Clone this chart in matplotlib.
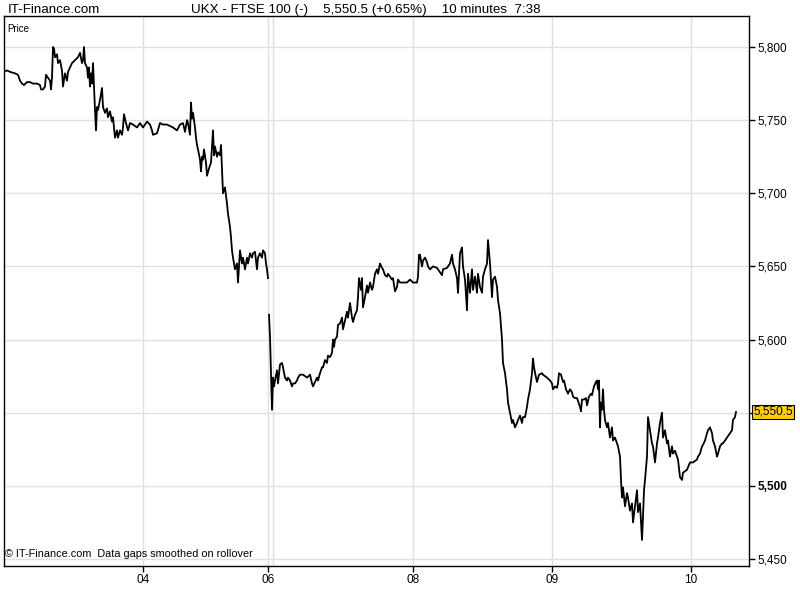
import numpy as np
import matplotlib
matplotlib.use("Agg")
import matplotlib.pyplot as plt
from matplotlib.ticker import FixedLocator

# FTSE 100, 10 minute bars (x = bar count, gaps smoothed on rollover)
t = [4, 7, 10, 15, 18, 20, 22, 24, 27, 30, 33, 37, 40, 41, 43, 45, 46, 48, 50, 51,
     52, 53, 54, 55, 57, 58, 60, 62, 63, 65, 67, 68, 70, 72, 75, 78, 80, 82, 83, 84,
     85, 87, 88, 89, 90, 91, 92, 93, 94, 95, 96, 97, 98, 100, 102, 103, 105, 107, 108, 110,
     112, 113, 115, 117, 118, 120, 122, 123, 124, 126, 128, 130,
     133, 137, 140, 143, 147, 150, 152, 153, 157, 160, 163, 167, 170, 173, 177, 180, 183, 185,
     187, 188, 190, 191, 192, 193, 195, 196, 197, 198, 200, 201, 202, 203, 204, 206, 207, 209,
     211, 213, 214, 215, 217, 218, 220, 221, 222, 223, 225, 227, 228, 230, 231, 232, 233, 235,
     237, 238, 240, 242, 243, 245, 247, 248, 250, 252, 253, 255, 257, 258, 260, 262, 263, 265,
     266, 267, 268, 268.5,
     269, 270, 271, 272, 273, 274, 275, 277, 278, 280, 282, 283, 285, 287, 288, 290, 292, 293,
     295, 297, 298, 300, 303, 307, 310, 312, 313, 315, 317, 318, 320, 322, 323, 325, 327, 328,
     330, 332, 333, 334, 335, 337, 338, 340, 342, 343, 345, 347, 348, 350, 352, 353, 355, 357,
     358, 359, 361, 362, 363, 365, 367, 368, 370, 372, 373, 375, 377, 378, 380, 382, 383, 385,
     387, 388, 390, 392, 393, 395, 397, 398, 400, 403, 407, 410, 413, 417, 418, 419, 420, 422,
     423, 425, 427, 428, 430, 433, 437, 440, 442, 443, 447, 450, 452, 453, 455, 457, 458, 460,
     462, 463, 465, 467, 468, 470, 472, 473, 475, 477, 478, 480, 482, 483, 485, 487, 488, 490,
     492, 493, 495, 497, 498, 500, 502, 503, 505, 507, 508, 510, 512, 513, 515, 517, 518, 520,
     522, 523, 525, 527, 528, 530, 532, 533, 534, 536, 537, 539, 542, 543, 547, 550, 552, 553,
     555, 557, 558, 559, 561, 563, 564, 566, 568, 570, 572, 573, 575, 577, 578, 580, 581, 582,
     584, 586, 587, 589, 591, 592, 594, 596, 597, 598, 599, 600, 601, 602, 603, 604, 605, 607,
     608, 610, 612, 613, 615, 617, 618, 620, 621, 622, 623, 625, 627, 628, 630, 632, 633, 635,
     637, 638, 640, 642, 643, 644, 645, 647, 648, 650, 652, 653, 655, 657, 658, 660, 662, 663,
     665, 667, 668, 670, 672, 673, 675, 677, 678, 680, 682, 683, 687, 690, 693, 697, 698, 700,
     702, 703, 705, 707, 708, 710, 712, 713, 715, 717, 718, 720, 722, 723, 725, 727, 730, 732,
     733, 735, 736]

price = [5783, 5784, 5783, 5782, 5781, 5777, 5775, 5774, 5776, 5776, 5775, 5775, 5774, 5771, 5771, 5773, 5781, 5779, 5777, 5771,
         5779, 5800, 5799, 5793, 5795, 5789, 5791, 5784, 5773, 5782, 5777, 5783, 5786, 5789, 5791, 5793, 5796, 5789, 5791, 5800,
         5789, 5786, 5779, 5786, 5773, 5782, 5775, 5789, 5773, 5757, 5743, 5759, 5757, 5764, 5772, 5759, 5755, 5758, 5752, 5756,
         5749, 5752, 5738, 5743, 5738, 5743, 5740, 5745, 5754, 5748, 5743, 5748,
         5747, 5745, 5748, 5745, 5749, 5747, 5743, 5740, 5741, 5748, 5747, 5747, 5746, 5745, 5743, 5747, 5748, 5742,
         5750, 5748, 5740, 5762, 5751, 5755, 5745, 5738, 5733, 5730, 5723, 5715, 5725, 5723, 5730, 5721, 5712, 5717,
         5721, 5743, 5726, 5732, 5725, 5728, 5726, 5733, 5716, 5700, 5704, 5693, 5686, 5677, 5670, 5661, 5656, 5648,
         5652, 5639, 5661, 5652, 5656, 5648, 5656, 5652, 5659, 5656, 5659, 5660, 5648, 5656, 5659, 5656, 5661, 5659,
         5652, 5648, 5642, np.nan,
         5617, 5602, 5577, 5552, 5574, 5568, 5572, 5579, 5570, 5583, 5584, 5581, 5574, 5572, 5574, 5572, 5568, 5570,
         5570, 5572, 5574, 5576, 5576, 5574, 5576, 5570, 5568, 5571, 5574, 5572, 5577, 5581, 5581, 5586, 5584, 5589,
         5588, 5591, 5600, 5595, 5600, 5602, 5610, 5611, 5615, 5607, 5613, 5619, 5615, 5625, 5615, 5612, 5617, 5620,
         5629, 5642, 5634, 5642, 5622, 5629, 5637, 5632, 5639, 5634, 5636, 5645, 5648, 5645, 5652, 5649, 5648, 5644,
         5643, 5645, 5643, 5641, 5642, 5633, 5636, 5641, 5639, 5639, 5639, 5641, 5639, 5639, 5643, 5658, 5658, 5650,
         5654, 5656, 5653, 5650, 5648, 5650, 5649, 5646, 5644, 5648, 5649, 5652, 5658, 5652, 5648, 5642, 5632, 5659,
         5663, 5650, 5641, 5620, 5645, 5632, 5648, 5634, 5643, 5632, 5645, 5636, 5632, 5643, 5648, 5652, 5668, 5652,
         5629, 5641, 5643, 5636, 5627, 5618, 5600, 5584, 5577, 5566, 5557, 5550, 5543, 5545, 5540, 5543, 5545, 5548,
         5543, 5547, 5547, 5554, 5559, 5566, 5577, 5587, 5581, 5574, 5571, 5576, 5577, 5576, 5574, 5572, 5570, 5566,
         5568, 5567, 5570, 5577, 5576, 5571, 5572, 5566, 5563, 5566, 5564, 5561, 5560, 5560, 5558, 5554, 5551, 5559,
         5559, 5560, 5555, 5561, 5563, 5562, 5568, 5571, 5572, 5566, 5572, 5540, 5557, 5552, 5566, 5552, 5545, 5540,
         5543, 5533, 5540, 5531, 5533, 5529, 5527, 5520, 5504, 5492, 5499, 5486, 5495, 5492, 5483, 5488, 5475, 5486,
         5497, 5482, 5488, 5463, 5479, 5497, 5504, 5520, 5547, 5538, 5529, 5527, 5516, 5529, 5533, 5543, 5550, 5533,
         5538, 5529, 5531, 5520, 5527, 5522, 5524, 5520, 5518, 5506, 5504, 5509, 5511, 5516, 5516, 5518, 5520, 5522,
         5527, 5528, 5531, 5536, 5538, 5540, 5536, 5531, 5527, 5520, 5522, 5527, 5529, 5529, 5531, 5533, 5536, 5538,
         5545, 5547, 5550.5]

day_ticks = [143, 268, 413, 552, 691]
day_labels = ["04", "06", "08", "09", "10"]
price_ticks = [5450, 5500, 5550, 5600, 5650, 5700, 5750, 5800]
price_labels = ["5,450", "5,500", "", "5,600", "5,650", "5,700", "5,750", "5,800"]
last_price = 5550.5

plt.rcParams["font.family"] = ["Liberation Sans", "DejaVu Sans"]

fig = plt.figure(figsize=(8, 6), dpi=100)
ax = fig.add_axes([4 / 800, 1 - 566 / 600, 745 / 800, 550 / 600])

ax.plot(t, price, color="black", lw=1.3, zorder=3)

ax.set_xlim(4, 749)
ax.set_ylim(5445.2, 5821.2)

ax.yaxis.tick_right()
ax.set_yticks(price_ticks)
ax.set_yticklabels(price_labels)
ax.set_xticks(day_ticks)
ax.set_xticklabels(day_labels)
ax.xaxis.set_minor_locator(FixedLocator([273]))
ax.tick_params(axis="both", which="major", labelsize=8.5, length=4, width=1,
               color="black", direction="out", pad=2)
ax.tick_params(axis="x", which="minor", length=0)
for lab in ax.get_yticklabels():
    if lab.get_text() == "5,500":
        lab.set_fontweight("bold")

ax.grid(True, which="both", color="#e0e0e0", lw=1, zorder=0)
for s in ax.spines.values():
    s.set_color("black")
    s.set_linewidth(1)

# header
fig.text(8 / 800, 1 - 10 / 600, "IT-Finance.com", fontsize=9.6,
         va="center", ha="left")
fig.text(191 / 800, 1 - 10 / 600,
         "UKX - FTSE 100 (-)    5,550.5 (+0.65%)    10 minutes  7:38",
         fontsize=9.6, va="center", ha="left")

ax.text(0.005, 0.985, "Price", transform=ax.transAxes, fontsize=7,
        va="top", ha="left")
ax.text(0.002, 0.012, "\u00a9 IT-Finance.com  Data gaps smoothed on rollover",
        transform=ax.transAxes, fontsize=7.8, va="bottom", ha="left")

# last price tag
ax.annotate("5,550.5", xy=(1.0, last_price), xycoords=("axes fraction", "data"),
            xytext=(3, 0), textcoords="offset points", fontsize=8.5,
            va="center", ha="left",
            bbox=dict(boxstyle="square,pad=0.1", fc="#ffcc00", ec="black", lw=0.8))

fig.savefig("out.png", dpi=100)
